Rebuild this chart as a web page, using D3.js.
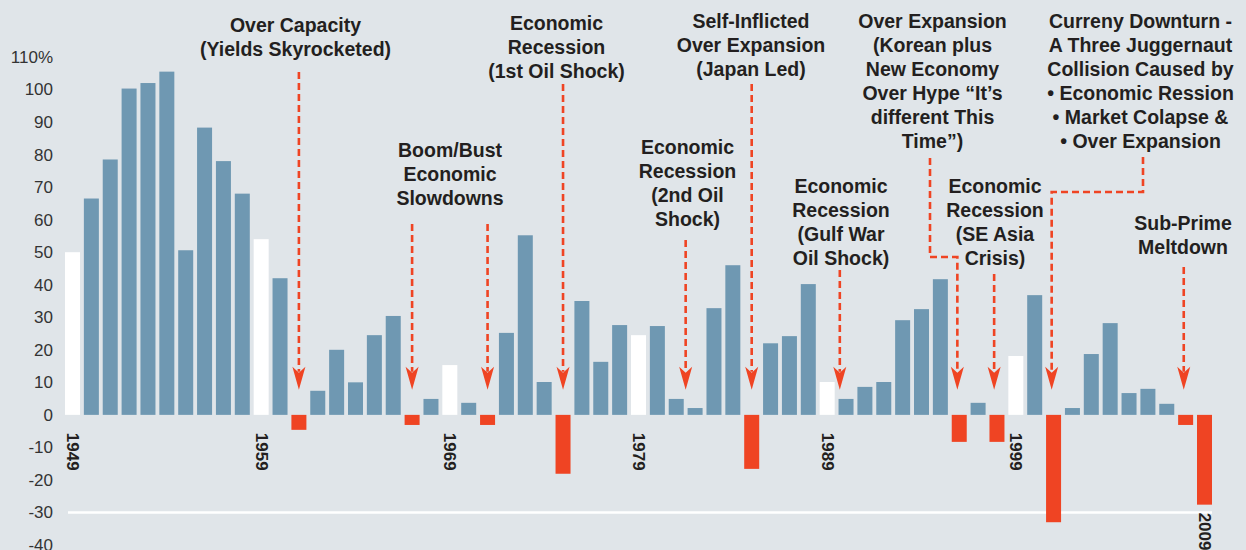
<!DOCTYPE html>
<html>
<head>
<meta charset="utf-8">
<script src="https://d3js.org/d3.v7.min.js"></script>
<style>
    body { margin: 0; background: #e0e5e9; }
    svg { display: block; font-family: "Liberation Sans", Arial, Helvetica, sans-serif; }
    .ytick { font-size: 17px; fill: #333; }
    .xlabel { font-size: 17px; font-weight: bold; fill: #231f20; }
    .note { font-size: 19.5px; font-weight: bold; fill: #231f20; }
</style>
</head>
<body>
<div class="chart"></div>
<script>
// yearly returns
var years = [1949, 1950, 1951, 1952, 1953, 1954, 1955, 1956, 1957, 1958,
    1959, 1960, 1961, 1962, 1963, 1964, 1965, 1966, 1967, 1968,
    1969, 1970, 1971, 1972, 1973, 1974, 1975, 1976, 1977, 1978,
    1979, 1980, 1981, 1982, 1983, 1984, 1985, 1986, 1987, 1988,
    1989, 1990, 1991, 1992, 1993, 1994, 1995, 1996, 1997, 1998,
    1999, 2000, 2001, 2002, 2003, 2004, 2005, 2006, 2007, 2008, 2009];

var returns = [50, 66.5, 78.5, 100.3, 102, 105.5, 50.6, 88.3, 78, 68,
    54, 42, -4.6, 7.4, 20, 10, 24.5, 30.4, -3.1, 4.9,
    15.3, 3.7, -3.1, 25.2, 55.2, 10.1, -18.1, 35, 16.3, 27.6,
    24.5, 27.3, 4.9, 2.1, 32.8, 46, -16.6, 22, 24.2, 40.2,
    10.1, 4.9, 8.6, 10.1, 29.1, 32.5, 41.7, -8.3, 3.7, -8.3,
    18.1, 36.8, -33, 2.1, 18.7, 28.2, 6.7, 8, 3.4, -3.1, -27.6];

var highlightYears = [1949, 1959, 1969, 1979, 1989, 1999];
var labelYears = [1949, 1959, 1969, 1979, 1989, 1999, 2009];
var yTicks = [110, 100, 90, 80, 70, 60, 50, 40, 30, 20, 10, 0, -10, -20, -30, -40];
var gridValues = [-30];

var notes = [
    {lines: ["Over Capacity", "(Yields Skyrocketed)"], cx: 295.5, top: 32},
    {lines: ["Economic", "Recession", "(1st Oil Shock)"], cx: 556.5, top: 30},
    {lines: ["Boom/Bust", "Economic", "Slowdowns"], cx: 450, top: 157},
    {lines: ["Self-Inflicted", "Over Expansion", "(Japan Led)"], cx: 751, top: 28},
    {lines: ["Economic", "Recession", "(2nd Oil", "Shock)"], cx: 687.5, top: 154},
    {lines: ["Economic", "Recession", "(Gulf War", "Oil Shock)"], cx: 841, top: 193},
    {lines: ["Over Expansion", "(Korean plus", "New Economy", "Over Hype \u201cIt\u2019s", "different This", "Time\u201d)"], cx: 932.5, top: 28},
    {lines: ["Economic", "Recession", "(SE Asia", "Crisis)"], cx: 995, top: 193},
    {lines: ["Curreny Downturn -", "A Three Juggernaut", "Collision Caused by", "\u2022 Economic Ression", "\u2022 Market Colapse &", "\u2022 Over Expansion"], cx: 1140.5, top: 28},
    {lines: ["Sub-Prime", "Meltdown"], cx: 1183, top: 230}
];

var arrows = [
    {year: 1961, from: 72},
    {year: 1967, from: 224},
    {year: 1971, from: 224},
    {year: 1975, from: 84},
    {year: 1981.5, from: 240},
    {year: 1985, from: 84},
    {year: 1989.67, from: 270},
    {year: 1995.9, from: 158, elbow: {x: 930, y: 257}},
    {year: 1997.85, from: 274},
    {year: 2000.9, from: 157, elbow: {x: 1143, y: 192}},
    {year: 2007.9, from: 267}
];

var blue = "#6f98b2",
    red = "#ef4423";

var width = 1246,
    height = 550;

var data = years.map(function(d, i) { return {year: d, value: returns[i]}; });

var x = d3.scaleBand()
    .domain(years)
    .range([65, 1212])
    .paddingInner(0.205)
    .paddingOuter(0);

var y = d3.scaleLinear()
    .domain([-40, 110])
    .range([545, 57]);

// continuous year -> bar centre, for arrows between bars
var yearX = d3.scaleLinear()
    .domain([years[0], years[years.length - 1]])
    .range([x(years[0]) + x.bandwidth() / 2, x(years[years.length - 1]) + x.bandwidth() / 2]);

var svg = d3.select(".chart").append("svg")
    .attr("width", width)
    .attr("height", height);

svg.append("rect")
    .attr("width", width)
    .attr("height", height)
    .attr("fill", "#e0e5e9");

svg.selectAll("line.grid")
    .data(gridValues)
    .enter().append("line")
    .attr("class", "grid")
    .attr("x1", x.range()[0] + 3)
    .attr("x2", x.range()[1])
    .attr("y1", function(d) { return y(d); })
    .attr("y2", function(d) { return y(d); })
    .attr("stroke", "#fff")
    .attr("stroke-width", 2.5);

// y axis, labels only
var yAxis = d3.axisLeft(y)
    .tickValues(yTicks)
    .tickSize(0)
    .tickPadding(0)
    .tickFormat(function(d) { return d === 110 ? d + "%" : d; });

var yg = svg.append("g")
    .attr("transform", "translate(53,0)")
    .call(yAxis);
yg.select(".domain").remove();
yg.selectAll("text")
    .attr("class", "ytick")
    .attr("font-family", null)
    .attr("font-size", null)
    .attr("fill", null);

svg.append("g")
    .attr("class", "bars")
    .selectAll("rect")
    .data(data)
    .enter().append("rect")
    .attr("x", function(d) { return x(d.year); })
    .attr("width", x.bandwidth())
    .attr("y", function(d) { return y(Math.max(0, d.value)); })
    .attr("height", function(d) { return Math.abs(y(d.value) - y(0)); })
    .attr("fill", function(d) {
        if (d.value < 0) return red;
        if (highlightYears.indexOf(d.year) >= 0) return "#fff";
        return blue;
    });

// rotated year labels under the decade bars
svg.append("g")
    .selectAll("text")
    .data(data.filter(function(d) { return labelYears.indexOf(d.year) >= 0; }))
    .enter().append("text")
    .attr("class", "xlabel")
    .attr("transform", function(d) {
        var ly = Math.max(y(0) + 18, y(d.value) + 8);
        return "translate(" + (x(d.year) + x.bandwidth() / 2) + "," + ly + ") rotate(90)";
    })
    .attr("dominant-baseline", "central")
    .text(function(d) { return d.year; });

// arrows
var tipY = y(0) - 25;

var ag = svg.append("g").attr("class", "arrows");

arrows.forEach(function(a) {
    var ax = yearX(a.year);
    var pts;
    if (a.elbow) {
        pts = [[a.elbow.x, a.from], [a.elbow.x, a.elbow.y], [ax, a.elbow.y], [ax, tipY - 18]];
    } else {
        pts = [[ax, a.from], [ax, tipY - 18]];
    }
    ag.append("path")
        .attr("d", d3.line()(pts))
        .attr("fill", "none")
        .attr("stroke", red)
        .attr("stroke-width", 2.6)
        .attr("stroke-dasharray", "7,4");
    ag.append("path")
        .attr("d", "M0,0L-6.5,-23L0,-17L6.5,-23Z")
        .attr("transform", "translate(" + ax + "," + tipY + ")")
        .attr("fill", red);
});

// annotation text
notes.forEach(function(n) {
    var t = svg.append("text")
        .attr("class", "note")
        .attr("text-anchor", "middle");
    n.lines.forEach(function(line, i) {
        t.append("tspan")
            .attr("x", n.cx)
            .attr("y", n.top + i * 24)
            .text(line);
    });
});
</script>
</body>
</html>
